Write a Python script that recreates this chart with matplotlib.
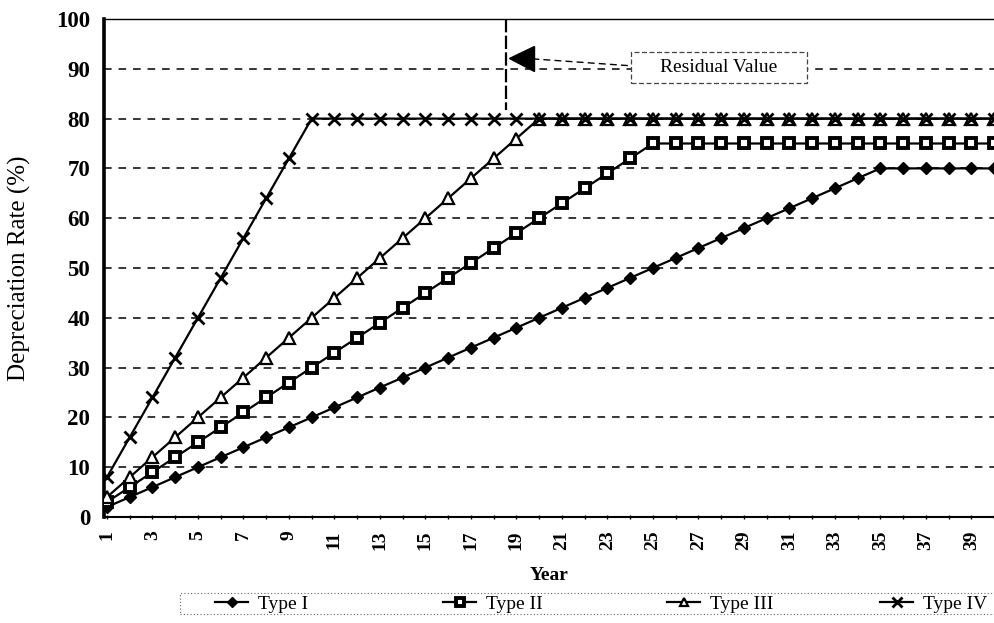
import matplotlib
matplotlib.use("Agg")
from matplotlib import pyplot as plt
from matplotlib.patches import Rectangle

plt.rcParams['font.family'] = ['Liberation Serif', 'DejaVu Serif']

years = list(range(1, 41))

type_1 = [2, 4, 6, 8, 10, 12, 14, 16, 18, 20, 22, 24, 26, 28, 30, 32, 34, 36, 38, 40,
          42, 44, 46, 48, 50, 52, 54, 56, 58, 60, 62, 64, 66, 68, 70, 70, 70, 70, 70, 70]
type_2 = [3, 6, 9, 12, 15, 18, 21, 24, 27, 30, 33, 36, 39, 42, 45, 48, 51, 54, 57, 60,
          63, 66, 69, 72, 75, 75, 75, 75, 75, 75, 75, 75, 75, 75, 75, 75, 75, 75, 75, 75]
type_3 = [4, 8, 12, 16, 20, 24, 28, 32, 36, 40, 44, 48, 52, 56, 60, 64, 68, 72, 76, 80,
          80, 80, 80, 80, 80, 80, 80, 80, 80, 80, 80, 80, 80, 80, 80, 80, 80, 80, 80, 80]
type_4 = [8, 16, 24, 32, 40, 48, 56, 64, 72, 80, 80, 80, 80, 80, 80, 80, 80, 80, 80, 80,
          80, 80, 80, 80, 80, 80, 80, 80, 80, 80, 80, 80, 80, 80, 80, 80, 80, 80, 80, 80]

fig = plt.figure(figsize=(9.94, 6.23), dpi=100)
ax = fig.add_axes([104/994, 1 - 517/623, 1 - 104/994, (517 - 19)/623])

# dashed gridlines
for g in range(10, 100, 10):
    ax.axhline(g, color='black', lw=1.1, linestyle=(0, (5, 4.5)), zorder=1)

ax.plot(years, type_1, color='black', lw=1.6, marker='D', ms=6.5,
        mfc='black', mec='black', label='Type I', zorder=3)
ax.plot(years, type_2, color='black', lw=1.6, marker='s', ms=7.5,
        mfc='white', mec='black', mew=2.8, label='Type II', zorder=3)
ax.plot(years, type_3, color='black', lw=1.6, marker='^', ms=8.5,
        mfc='white', mec='black', mew=1.6, label='Type III', zorder=3)
ax.plot(years, type_4, color='black', lw=1.6, marker='x', ms=9,
        mec='black', mew=2.0, label='Type IV', zorder=4)

# residual value marker
ax.plot([18.55, 18.55], [100, 81.8], color='black', lw=1.6,
        linestyle=(0, (6, 1.5)), zorder=2)
ax.plot([19.2], [92.2], marker='<', ms=18, color='black', zorder=5)
ax.plot([19.7, 24.04], [92.0, 90.6], color='black', lw=1.0,
        linestyle=(0, (5, 3)), zorder=2)
ax.add_patch(Rectangle((24.04, 87.2), 7.72, 6.2, facecolor='white',
                       edgecolor='#444444', lw=0.9, linestyle=(0, (4, 2)), zorder=4))
ax.text(27.9, 90.3, 'Residual Value', fontsize=14, ha='center', va='center', zorder=5)

ax.set_xlim(0.87, 39.92)
ax.set_ylim(0, 100)
ax.set_xticks(years)
ax.set_xticklabels([str(y) if y % 2 == 1 else '' for y in years],
                   rotation=90, fontsize=14, fontweight='bold')
ax.set_yticks(range(0, 101, 10))
ax.set_yticklabels([str(v) for v in range(0, 101, 10)], fontsize=16.5, fontweight='bold')
ax.tick_params(axis='x', length=3, width=1, direction='inout', pad=8)
ax.tick_params(axis='y', length=0, pad=10)

ax.spines['right'].set_visible(False)
ax.spines['left'].set_linewidth(2.6)
ax.spines['bottom'].set_linewidth(1.5)
ax.spines['top'].set_linewidth(1.0)

ax.set_xlabel('Year', fontsize=14, fontweight='bold')
ax.xaxis.set_label_coords(0.5, -0.10)
ax.set_ylabel('Depreciation Rate (%)', fontsize=18)
ax.yaxis.set_label_coords(-0.082, 0.5)

# legend: one entry per slot so the spacing is even like the original
handles, labels = ax.get_legend_handles_labels()
slot_px = [232, 460, 684, 897]
for h, l, px in zip(handles, labels, slot_px):
    fig.legend([h], [l], loc='center left',
               bbox_to_anchor=((px - 17)/994, 1 - 604/623), frameon=False, fontsize=14,
               handlelength=1.7, handletextpad=0.5, borderpad=0, borderaxespad=0,
               markerscale=0.75)
fig.patches.append(Rectangle((180/994, 1 - 614/623), 1.0, 21/623, transform=fig.transFigure,
                             fill=False, edgecolor='#666666', lw=0.8, linestyle=(0, (1, 2))))

fig.savefig('out.png', dpi=100)
